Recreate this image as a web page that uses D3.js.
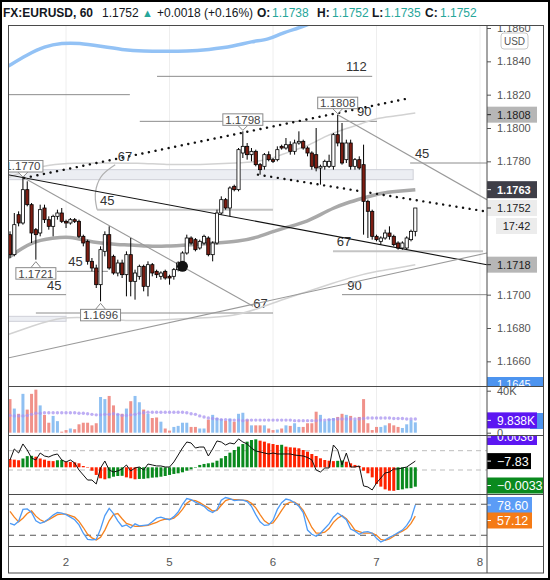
<!DOCTYPE html>
<html>
<head>
<meta charset="utf-8">
<script src="https://cdn.jsdelivr.net/npm/d3@7"></script>
<style>
body { margin: 0; background: #fff; }
svg { display: block; font-family: "Liberation Sans", Arial, sans-serif; }
</style>
</head>
<body>
<div id="chartDiv"></div>
<script>
// hourly EURUSD candles
const opens = [1.1736,1.1724,1.1748,1.1743,1.1763,1.1754,1.1739,1.1737,1.1752,1.1745,
  1.1741,1.1747,1.1749,1.1744,1.1743,1.1745,1.1744,1.1735,1.1732,1.1720,
  1.1716,1.1706,1.1726,1.1736,1.1723,1.1713,1.1719,1.1712,1.1724,1.1708,
  1.1711,1.1717,1.1705,1.1718,1.1714,1.1711,1.1714,1.1711,1.1711,1.1715,
  1.1719,1.1725,1.1734,1.1733,1.1728,1.1731,1.1734,1.1724,1.1731,1.1749,
  1.1757,1.1752,1.1765,1.1763,1.1785,1.1789,1.1784,1.1786,1.1778,1.1777,
  1.1784,1.1781,1.1781,1.1789,1.1788,1.1790,1.1786,1.1791,1.1792,1.1788,
  1.1785,1.1784,1.1776,1.1777,1.1777,1.1777,1.1796,1.1791,1.1781,1.1791,
  1.1777,1.1781,1.1778,1.1756,1.1750,1.1735,1.1732,1.1734,1.1737,1.1735,
  1.1731,1.1728,1.1728,1.1733,1.1738];
const highs = [1.1738,1.1749,1.1750,1.1770,1.1768,1.1755,1.1740,1.1754,1.1754,1.1747,
  1.1748,1.1751,1.1752,1.1745,1.1746,1.1746,1.1745,1.1736,1.1733,1.1722,
  1.1718,1.1729,1.1738,1.1741,1.1724,1.1721,1.1721,1.1726,1.1734,1.1715,
  1.1718,1.1718,1.1720,1.1719,1.1715,1.1714,1.1715,1.1712,1.1716,1.1720,
  1.1726,1.1736,1.1735,1.1734,1.1733,1.1736,1.1735,1.1732,1.1751,1.1759,
  1.1758,1.1765,1.1766,1.1788,1.1798,1.1791,1.1788,1.1787,1.1779,1.1785,
  1.1786,1.1782,1.1789,1.1790,1.1794,1.1792,1.1793,1.1798,1.1793,1.1789,
  1.1786,1.1800,1.1778,1.1781,1.1784,1.1797,1.1808,1.1803,1.1793,1.1793,
  1.1782,1.1783,1.1790,1.1757,1.1751,1.1736,1.1735,1.1739,1.1741,1.1736,
  1.1732,1.1732,1.1735,1.1739,1.1752];
const lows = [1.1722,1.1723,1.1741,1.1742,1.1753,1.1731,1.1721,1.1735,1.1743,1.1739,
  1.1735,1.1745,1.1743,1.1740,1.1742,1.1743,1.1734,1.1729,1.1718,1.1714,
  1.1704,1.1696,1.1723,1.1715,1.1712,1.1711,1.1710,1.1699,1.1699,1.1697,
  1.1709,1.1702,1.1699,1.1711,1.1710,1.1709,1.1709,1.1706,1.1709,1.1714,
  1.1718,1.1724,1.1730,1.1726,1.1727,1.1730,1.1723,1.1720,1.1730,1.1748,
  1.1751,1.1747,1.1762,1.1762,1.1782,1.1781,1.1780,1.1777,1.1772,1.1775,
  1.1780,1.1779,1.1780,1.1787,1.1787,1.1784,1.1784,1.1790,1.1787,1.1783,
  1.1775,1.1774,1.1766,1.1775,1.1776,1.1775,1.1789,1.1778,1.1779,1.1775,
  1.1775,1.1775,1.1736,1.1734,1.1733,1.1732,1.1730,1.1733,1.1733,1.1729,
  1.1727,1.1727,1.1727,1.1732,1.1735];
const closes = [1.1724,1.1742,1.1743,1.1763,1.1754,1.1737,1.1736,1.1751,1.1745,1.1741,
  1.1747,1.1749,1.1744,1.1743,1.1745,1.1744,1.1735,1.1731,1.1720,1.1716,
  1.1706,1.1727,1.1736,1.1716,1.1713,1.1719,1.1712,1.1724,1.1708,1.1713,
  1.1717,1.1705,1.1718,1.1713,1.1712,1.1713,1.1710,1.1710,1.1715,1.1719,
  1.1725,1.1734,1.1731,1.1727,1.1732,1.1735,1.1724,1.1731,1.1749,1.1757,
  1.1752,1.1764,1.1763,1.1787,1.1789,1.1784,1.1786,1.1778,1.1775,1.1784,
  1.1781,1.1780,1.1787,1.1788,1.1790,1.1786,1.1791,1.1792,1.1788,1.1785,
  1.1777,1.1776,1.1777,1.1780,1.1780,1.1796,1.1791,1.1779,1.1791,1.1777,
  1.1781,1.1776,1.1756,1.1750,1.1735,1.1733,1.1734,1.1737,1.1735,1.1730,
  1.1728,1.1731,1.1734,1.1738,1.1752];

// moving averages, sampled at candle indices
const slowMaIdx = [-0.5, 4, 8, 12, 16, 21, 26, 31, 36, 41, 46, 52, 56, 60, 63, 67, 70];
const slowMaVal = [1.1837,1.1844,1.1849,1.1851,1.1851,1.1849,1.1847,1.1846,1.1846,1.1846,1.1847,1.1849,1.1852,1.1853,1.1857,1.1860,1.1863];
const midMaIdx = [-0.5, 5, 10, 14, 18, 21, 25, 28, 32, 36, 42, 48, 53, 57, 61, 65, 69, 72, 75, 78, 82, 86, 90, 94];
const midMaVal = [1.1722,1.1732,1.1734,1.1735,1.1732,1.1731,1.1730,1.1730,1.1729,1.1729,1.1730,1.1731,1.1732,1.1734,1.1738,1.1741,1.1744,1.1748,1.1752,1.1755,1.1758,1.1761,1.1762,1.1763];
const upperEnvIdx = [-0.5, 4, 9, 15, 21, 30, 36, 44, 53, 58, 61, 65, 69, 73, 77, 81, 85, 89, 94];
const upperEnvVal = [1.1770,1.1775,1.1778,1.1779,1.1779,1.1779,1.1778,1.1778,1.1779,1.1780,1.1782,1.1786,1.1789,1.1795,1.1799,1.1802,1.1806,1.1807,1.1809];
const lowerEnvIdx = [-0.5, 5, 12, 20, 28, 36, 44, 52, 58, 63, 68, 75, 80, 85, 90, 94];
const lowerEnvVal = [1.1676,1.1681,1.1687,1.1686,1.1684,1.1685,1.1686,1.1687,1.1692,1.1697,1.1701,1.1707,1.1711,1.1714,1.1716,1.1718];

// volume in thousands, and its average
const volumes = [32,23,18,37,22,37,41,26,17,9.5,
  16,11,1,2.5,4,3.3,8,9.5,9.5,7,
  9,34,32,35,26,18,18,23,30,35,
  29,22,18,14,14.5,10.5,4,2,5.5,6.5,
  9.5,9.5,5.5,5.5,4,4,12.5,17,14,13,
  11.5,13.5,10.5,18,19,12.5,7,7,7,7,
  4,2.5,3,4,7,6.5,9,5.5,5.5,9,
  9,20,17,11,13,14,15,18,17,16,
  12,15,32,9,2.5,5.5,5.5,7,9,7,
  5.5,4.5,8,12,9.838];
const volMa = [16.5,16,16,16,16.5,17.5,18.5,18.5,19,19,
  19,19,19,19,19,19,18.5,18.5,18,17.5,
  17,17,17.5,17.5,18,17.5,16.5,16.5,17,17.5,
  18.5,19,19.5,19.5,19.5,19.5,19.5,19.5,19.5,19.5,
  19.5,19,18,17.5,16,15,14,13.5,13,12.5,
  12.5,12,12,12,11.5,12,12,12,12,12,
  12,12,12,12,12,12,11.5,11.5,11.5,11.5,
  11.5,11.5,12,12,12.5,12.5,13,13,13,13,
  13,13,13.5,14,14,14,14,14,14,13.5,
  13.5,13.5,13,13,13];

// oscillator histogram and CCI line
const hist = [0.0014,0.0013,0.0012,0.0015,0.0019,0.00195,0.0018,0.0015,0.0013,0.0011,
  0.00105,0.0012,0.00125,0.00095,0.0009,0.00085,0.00068,0.00022,0.00003,-0.00058,
  -0.0013,-0.00187,-0.00204,-0.00187,-0.0016,-0.00148,-0.00145,-0.00171,-0.00187,-0.00204,
  -0.00198,-0.00196,-0.00187,-0.00176,-0.00171,-0.0016,-0.00148,-0.0013,-0.00113,-0.00102,
  -0.00085,-0.00058,-0.00034,0.00002,0.0004,0.00057,0.00068,0.00079,0.00112,0.00153,
  0.00192,0.00249,0.00294,0.00351,0.00396,0.00436,0.00464,0.00476,0.00453,0.00436,
  0.00408,0.00396,0.0038,0.00383,0.00351,0.0034,0.00335,0.00323,0.00294,0.00266,
  0.00226,0.00192,0.00153,0.00124,0.00112,0.00105,0.0011,0.00115,0.00095,0.00068,
  0.0004,0.00022,-0.00058,-0.00102,-0.00171,-0.00283,-0.00329,-0.00375,-0.00397,-0.004,
  -0.00386,-0.00375,-0.00358,-0.00355,-0.0033];
const cci = [4,118,76,170,107,24,4,76,45,35,
  55,66,4,-17,4,-27,-100,-152,-204,-204,
  -245,-79,-7,-100,-121,-110,-89,-48,-110,-79,
  -69,-100,-38,-48,-58,-58,-69,-69,-17,55,
  128,190,180,128,138,138,45,118,201,190,
  159,180,170,222,190,170,128,97,87,76,
  66,76,66,66,66,66,55,50,45,30,
  4,-100,-121,-79,-79,159,107,-48,76,-69,
  -69,-58,-265,-276,-307,-235,-183,-131,-121,-89,
  -89,-79,-69,-38,-7.83];

// stochastic %K and %D
const stochK = [43,40,47,70,71,64,48,43,46,52,
  59,64,63,60,55,50,40,24,12,11,
  12,32,58,72,62,48,37,40,34,42,
  38,39,40,46,53,55,52,50,56,65,
  80,91,89,84,80,76,68,64,70,88,
  93,91,87,88,88,85,76,60,46,39,
  40,49,70,83,90,88,83,76,64,30,
  22,18,24,33,42,55,63,57,50,32,
  28,22,26,27,24,14,7,11,16,20,
  25,30,39,52,78.6];
const stochD = [66,55,46,53,62,67,57,50,46,50,
  55,60,61,61,58,55,47,35,22,15,
  11,16,30,48,60,62,52,43,40,37,
  37,38,39,42,45,49,51,51,53,60,
  70,82,88,87,83,78,73,67,68,78,
  87,90,89,89,88,87,82,73,60,48,
  42,44,55,68,80,84,84,78,68,52,
  35,24,24,26,33,45,53,58,52,42,
  30,27,24,24,24,20,12,10,13,18,
  24,28,33,43,57.12];

// time axis
const dayTickIdx = [13, 37, 61, 85, 109];
const dayTickLabels = ['2', '5', '6', '7', '8'];
// 1.1720, 1.1740 and 1.1760 sit under the price tags, so they are left out
const priceTicks = [1.166, 1.168, 1.170, 1.178, 1.180, 1.182, 1.184, 1.186];

// drawings on the price pane
const levelLines = [
  { from: -0.5, to: 27.8, price: 1.1820, label: '', at: 0, light: false },
  { from: 34.1, to: 84.0, price: 1.1831, label: '112', at: 77.9, light: false },
  { from: 30.1, to: 85.1, price: 1.1804, label: '90', at: 80.5, light: false },
  { from: 92.8, to: 110.6, price: 1.1779, label: '45', at: 93.9, light: false },
  { from: 20.2, to: 61.0, price: 1.1751, label: '45', at: 20.9, light: true },
  { from: 10.9, to: 22.7, price: 1.1714, label: '45', at: 13.5, light: false },
  { from: -0.5, to: 13.0, price: 1.1700, label: '45', at: 8.6, light: false },
  { from: 6.0, to: 61.0, price: 1.1689, label: '67', at: 56.4, light: false },
  { from: 77.0, to: 110.6, price: 1.1700, label: '90', at: 78.2, light: false },
  { from: 74.9, to: 109.7, price: 1.1726, label: '67', at: 75.8, light: true }
];
const trendLines = [
  { i0: -0.5, p0: 1.1772, i1: 110.6, p1: 1.1718, kind: 'solid' },
  { i0: 3.3, p0: 1.1770, i1: 56.4, p1: 1.1693, kind: 'thin' },
  { i0: 76.0, p0: 1.1808, i1: 110.6, p1: 1.1757, kind: 'thin' },
  { i0: -0.5, p0: 1.1662, i1: 110.6, p1: 1.1725, kind: 'thin' },
  { i0: 3.3, p0: 1.1770, i1: 92.8, p1: 1.1818, kind: 'dots' },
  { i0: 57.5, p0: 1.1772, i1: 110.2, p1: 1.1750, kind: 'dots' }
];
const zones = [
  { from: -0.5, to: 93.5, top: 1.1775, bottom: 1.1769 },
  { from: -0.5, to: 13.0, top: 1.1687, bottom: 1.1684 }
];
const arcPoints = [[24.4, 1.1778], [21.5, 1.1772], [20.0, 1.1764], [19.8, 1.1757], [20.2, 1.1751]];
const pivots = [
  { i: 3, kind: 'high' }, { i: 6, kind: 'low' }, { i: 21, kind: 'low' },
  { i: 54, kind: 'high' }, { i: 76, kind: 'high' }
];
const marker = { i: 40, price: 1.1717 };
const lineLabel67 = { i: 25, price: 1.1780 };

const fmt4 = d3.format('.4f');
const W = 550, H = 580;
const L = 8, R = 487, RR = 544;
const panes = [
  { top: 25, bottom: 386 },
  { top: 386, bottom: 435 },
  { top: 435, bottom: 494 },
  { top: 494, bottom: 546 }
];

const x = d3.scaleLinear().domain([0, 109]).range([10, 480]);
const yP = d3.scaleLinear().domain([1.16458, 1.18618]).range([385, 25]);
const yV = d3.scaleLinear().domain([0, 40]).range([432.7, 390.7]);
const yH = d3.scaleLinear().domain([-0.004, 0.005]).range([490.82, 437.9]);
const yC = d3.scaleLinear().domain([-100, 100]).range([470, 450.7]);
const yS = d3.scaleLinear().domain([0, 100]).range([545.6, 493.9]);

const svg = d3.select('#chartDiv').append('svg')
  .attr('width', W)
  .attr('height', H);

svg.append('rect').attr('width', W).attr('height', H).attr('fill', '#fff');

const defs = svg.append('defs');
panes.forEach((p, k) => {
  defs.append('clipPath').attr('id', 'plot' + k)
    .append('rect').attr('x', L).attr('y', p.top).attr('width', R - L).attr('height', p.bottom - p.top);
  defs.append('clipPath').attr('id', 'axis' + k)
    .append('rect').attr('x', R).attr('y', p.top + 0.5).attr('width', RR - R).attr('height', p.bottom - p.top - 0.5);
});

// header
const header = svg.append('g').attr('font-size', 12).attr('fill', '#131722');
const n = closes.length - 1;
const teal = '#26a69a';
header.append('text').attr('x', 3).attr('y', 17).attr('font-weight', 'bold').text('FX:EURUSD, 60');
header.append('text').attr('x', 102).attr('y', 17).text(fmt4(closes[n]));
header.append('text').attr('x', 142).attr('y', 17).attr('font-size', 11).attr('fill', teal).text('▲');
header.append('text').attr('x', 157).attr('y', 17).text('+0.0018 (+0.16%)');
[['O:', 257, opens[n], 272], ['H:', 317, highs[n], 332], ['L:', 372, lows[n], 384], ['C:', 425, closes[n], 440]]
  .forEach(([k, kx, v, vx]) => {
    header.append('text').attr('x', kx).attr('y', 17).attr('font-weight', 'bold').text(k);
    header.append('text').attr('x', vx).attr('y', 17).attr('fill', teal).text(fmt4(v));
  });

// vertical day grid
svg.append('g').selectAll('line')
  .data(dayTickIdx)
  .enter().append('line')
  .attr('x1', d => x(d)).attr('x2', d => x(d))
  .attr('y1', 25).attr('y2', 546)
  .attr('stroke', '#eeeeee').attr('stroke-width', 1);

// ---------- price pane ----------
const g = svg.append('g').attr('clip-path', 'url(#plot0)');

g.selectAll('.zone')
  .data(zones)
  .enter().append('rect')
  .attr('x', d => x(d.from)).attr('width', d => x(d.to) - x(d.from))
  .attr('y', d => yP(d.top)).attr('height', d => yP(d.bottom) - yP(d.top))
  .attr('fill', '#eceef3').attr('stroke', '#cfd1d8').attr('stroke-width', 1);

g.selectAll('.level')
  .data(levelLines)
  .enter().append('line')
  .attr('x1', d => x(d.from)).attr('x2', d => x(d.to))
  .attr('y1', d => yP(d.price)).attr('y2', d => yP(d.price))
  .attr('stroke', d => d.light ? '#c4c4c4' : '#8c8c8c')
  .attr('stroke-width', d => d.light ? 2 : 1);

g.selectAll('.level-label')
  .data(levelLines.filter(d => d.label))
  .enter().append('text')
  .attr('x', d => x(d.at)).attr('y', d => yP(d.price) - 5)
  .attr('font-size', 13).attr('fill', '#333')
  .text(d => d.label);

const curve = (idx, vals) => d3.line().curve(d3.curveBasis)
  .x((d, k) => x(d))
  .y((d, k) => yP(vals[k]))(idx);

g.append('path').attr('d', curve(upperEnvIdx, upperEnvVal))
  .attr('fill', 'none').attr('stroke', '#d2d2d2').attr('stroke-width', 1.5);
g.append('path').attr('d', curve(lowerEnvIdx, lowerEnvVal))
  .attr('fill', 'none').attr('stroke', '#d2d2d2').attr('stroke-width', 1.5);
g.append('path').attr('d', curve(slowMaIdx, slowMaVal))
  .attr('fill', 'none').attr('stroke', '#93c2f5').attr('stroke-width', 3.5);
g.append('path').attr('d', curve(midMaIdx, midMaVal))
  .attr('fill', 'none').attr('stroke', '#a9a9a9').attr('stroke-width', 3.5);

g.append('path')
  .attr('d', d3.line().curve(d3.curveNatural).x(d => x(d[0])).y(d => yP(d[1]))(arcPoints))
  .attr('fill', 'none').attr('stroke', '#b0b0b0').attr('stroke-width', 1.2);

g.selectAll('.trend')
  .data(trendLines)
  .enter().append('line')
  .attr('x1', d => x(d.i0)).attr('y1', d => yP(d.p0))
  .attr('x2', d => x(d.i1)).attr('y2', d => yP(d.p1))
  .attr('stroke', d => d.kind === 'thin' ? '#9a9a9a' : '#111')
  .attr('stroke-width', d => d.kind === 'dots' ? 2.4 : 1.1)
  .attr('stroke-linecap', d => d.kind === 'dots' ? 'round' : 'butt')
  .attr('stroke-dasharray', d => d.kind === 'dots' ? '0.1,6.6' : null);

g.append('text')
  .attr('x', x(lineLabel67.i)).attr('y', yP(lineLabel67.price))
  .attr('font-size', 13).attr('fill', '#333').text('67');

// candles
const idx = d3.range(closes.length);
g.selectAll('.wick')
  .data(idx)
  .enter().append('line')
  .attr('x1', i => x(i)).attr('x2', i => x(i))
  .attr('y1', i => yP(highs[i])).attr('y2', i => yP(lows[i]))
  .attr('stroke', '#000').attr('stroke-width', 1);
g.selectAll('.body')
  .data(idx)
  .enter().append('rect')
  .attr('x', i => x(i) - 1.6).attr('width', 3.2)
  .attr('y', i => yP(Math.max(opens[i], closes[i])))
  .attr('height', i => Math.max(1, Math.abs(yP(opens[i]) - yP(closes[i]))))
  .attr('fill', i => closes[i] >= opens[i] ? '#ffffff' : '#7d1d12')
  .attr('stroke', '#000').attr('stroke-width', 0.8);

g.append('circle')
  .attr('cx', x(marker.i)).attr('cy', yP(marker.price)).attr('r', 5.5)
  .attr('fill', '#111');

// pivot price tags
pivots.forEach(p => {
  const v = p.kind === 'high' ? highs[p.i] : lows[p.i];
  const cx = x(p.i), py = yP(v);
  const bw = 40, bh = 11.5;
  const by = p.kind === 'high' ? py - 6 - bh : py + 8;
  const edge = p.kind === 'high' ? by + bh : by;
  const tip = p.kind === 'high' ? py - 1 : py + 2;
  g.append('path')
    .attr('d', `M${cx - 5},${edge}L${cx},${tip}L${cx + 5},${edge}`)
    .attr('fill', '#fff').attr('stroke', '#8a8a8a').attr('stroke-width', 1);
  g.append('rect')
    .attr('x', cx - bw / 2).attr('y', by).attr('width', bw).attr('height', bh)
    .attr('fill', '#fff').attr('stroke', '#8a8a8a').attr('stroke-width', 1);
  g.append('text')
    .attr('x', cx).attr('y', by + bh / 2).attr('dy', '0.36em')
    .attr('text-anchor', 'middle').attr('font-size', 11.5).attr('fill', '#444')
    .text(fmt4(v));
});

// ---------- volume pane ----------
const gv = svg.append('g').attr('clip-path', 'url(#plot1)');
gv.selectAll('rect')
  .data(idx)
  .enter().append('rect')
  .attr('x', i => x(i) - 1.5).attr('width', 3)
  .attr('y', i => yV(volumes[i])).attr('height', i => yV(0) - yV(volumes[i]))
  .attr('fill', i => closes[i] >= opens[i] ? '#8fc0f2' : '#f0918a');
gv.selectAll('circle')
  .data(idx)
  .enter().append('circle')
  .attr('cx', i => x(i)).attr('cy', i => yV(volMa[i])).attr('r', 1.7)
  .attr('fill', '#a893f0').attr('opacity', 0.75);

// ---------- oscillator pane ----------
const gm = svg.append('g').attr('clip-path', 'url(#plot2)');
gm.selectAll('.lvl')
  .data([100, -100])
  .enter().append('line')
  .attr('x1', L).attr('x2', R)
  .attr('y1', d => yC(d)).attr('y2', d => yC(d))
  .attr('stroke', '#bdbdbd').attr('stroke-dasharray', '5,4');
gm.selectAll('rect')
  .data(idx)
  .enter().append('rect')
  .attr('x', i => x(i) - 1.5).attr('width', 3)
  .attr('y', i => Math.min(yH(0), yH(hist[i])))
  .attr('height', i => Math.max(0.5, Math.abs(yH(hist[i]) - yH(0))))
  .attr('fill', i => i > 0 && hist[i] > hist[i - 1] ? '#0a8a1e' : '#ff2200');
gm.append('path')
  .attr('d', d3.line().x(i => x(i)).y(i => yC(cci[i]))(idx))
  .attr('fill', 'none').attr('stroke', '#111').attr('stroke-width', 1);

// ---------- stochastic pane ----------
const gs = svg.append('g').attr('clip-path', 'url(#plot3)');
gs.selectAll('.lvl')
  .data([80, 20])
  .enter().append('line')
  .attr('x1', L).attr('x2', R)
  .attr('y1', d => yS(d)).attr('y2', d => yS(d))
  .attr('stroke', '#555').attr('stroke-dasharray', '6,5');
gs.append('path')
  .attr('d', d3.line().x(i => x(i)).y(i => yS(stochD[i]))(idx))
  .attr('fill', 'none').attr('stroke', '#f5821f').attr('stroke-width', 1.3);
gs.append('path')
  .attr('d', d3.line().x(i => x(i)).y(i => yS(stochK[i]))(idx))
  .attr('fill', 'none').attr('stroke', '#4e9bf6').attr('stroke-width', 1.3);

// ---------- right scales ----------
const ga = svg.append('g').attr('clip-path', 'url(#axis0)');
ga.append('g')
  .attr('transform', `translate(${R},0)`)
  .call(d3.axisRight(yP).tickValues(priceTicks).tickFormat(fmt4).tickSize(4).tickPadding(6))
  .call(a => a.select('.domain').remove())
  .call(a => a.selectAll('text').attr('font-size', 11).attr('fill', '#555').attr('font-family', null))
  .call(a => a.selectAll('line').attr('stroke', '#555'));

const badge = (parent, cy, text, bg, fg, opts = {}) => {
  const h = opts.h || 16, w = opts.w || 50, x0 = opts.x0 || R;
  parent.append('rect')
    .attr('x', x0).attr('y', cy - h / 2).attr('width', w).attr('height', h)
    .attr('fill', bg);
  parent.append('line')
    .attr('x1', R).attr('x2', R + 4).attr('y1', cy).attr('y2', cy)
    .attr('stroke', fg);
  parent.append('text')
    .attr('x', opts.center ? x0 + w / 2 : 497).attr('y', cy).attr('dy', '0.36em')
    .attr('text-anchor', opts.center ? 'middle' : 'start')
    .attr('font-size', opts.fs || 11).attr('font-weight', opts.bold ? 'bold' : null)
    .attr('fill', fg).text(text);
};

ga.append('rect').attr('x', 501).attr('y', 33).attr('width', 27).attr('height', 16)
  .attr('rx', 3).attr('fill', '#fff').attr('stroke', '#c8c8c8');
ga.append('text').attr('x', 514.5).attr('y', 41).attr('dy', '0.36em').attr('text-anchor', 'middle')
  .attr('font-size', 10).attr('fill', '#555').text('USD');

const maxHigh = d3.max(highs);
const lastMa = midMaVal[midMaVal.length - 1];
const lastLine = trendLines[0].p1;
badge(ga, yP(maxHigh), fmt4(maxHigh), '#b6b6b6', '#222');
badge(ga, yP(lastMa), fmt4(lastMa), '#3e3e48', '#fff', { bold: true, h: 17 });
badge(ga, yP(closes[n]), fmt4(closes[n]), '#ececec', '#222');
ga.append('rect').attr('x', 496).attr('y', yP(closes[n]) + 10).attr('width', 41).attr('height', 16).attr('fill', '#ececec');
ga.append('text').attr('x', 516.5).attr('y', yP(closes[n]) + 18).attr('dy', '0.36em')
  .attr('text-anchor', 'middle').attr('font-size', 11).attr('fill', '#222').text('17:42');
badge(ga, yP(lastLine), fmt4(lastLine), '#b6b6b6', '#222');
ga.append('rect').attr('x', R).attr('y', 377).attr('width', 56).attr('height', 16).attr('fill', '#4d94ef');
ga.append('text').attr('x', 497).attr('y', 384).attr('dy', '0.36em').attr('font-size', 11).attr('fill', '#fff').text('1.1645');

const gva = svg.append('g').attr('clip-path', 'url(#axis1)');
gva.append('g')
  .attr('transform', `translate(${R},0)`)
  .call(d3.axisRight(yV).tickValues([0, 40]).tickFormat(d => d ? d + 'K' : '0').tickSize(4).tickPadding(6))
  .call(a => a.select('.domain').remove())
  .call(a => a.selectAll('text').attr('font-size', 11).attr('fill', '#555').attr('font-family', null))
  .call(a => a.selectAll('line').attr('stroke', '#555'));
gva.append('rect').attr('x', 530).attr('y', 413).attr('width', 14).attr('height', 16).attr('fill', '#4d94ef');
badge(gva, yV(volumes[n]) - 2, volumes[n].toFixed(3) + 'K', '#5c16f2', '#fff', { fs: 12 });

const gma = svg.append('g').attr('clip-path', 'url(#axis2)');
badge(gma, 437, '0.0036', '#5c16f2', '#fff', { fs: 12 });
badge(gma, yC(cci[n]), cci[n].toFixed(2).replace('-', '−'), '#000', '#fff', { fs: 12.5, w: 44 });
badge(gma, 485.5, hist[n].toFixed(4).replace('-', '−'), '#0a8a1e', '#fff', { fs: 12.5, w: 56 });

const gsa = svg.append('g').attr('clip-path', 'url(#axis3)');
badge(gsa, 505, stochK[n].toFixed(2), '#5b9cf6', '#fff', { fs: 12.5, w: 45 });
badge(gsa, 520.5, stochD[n].toFixed(2), '#f57b16', '#fff', { fs: 12.5, w: 45 });

// bottom time labels
svg.append('g').selectAll('text')
  .data(dayTickIdx)
  .enter().append('text')
  .attr('x', d => x(d)).attr('y', 562).attr('dy', '0.36em')
  .attr('text-anchor', 'middle').attr('font-size', 11.5).attr('fill', '#555')
  .text((d, k) => dayTickLabels[k]);

// frame and pane separators
const frame = svg.append('g').attr('stroke', '#4a4a4a').attr('stroke-width', 1).attr('fill', 'none');
frame.append('rect').attr('x', L + 0.5).attr('y', 25.5).attr('width', RR - L - 1).attr('height', 573 - 25.5);
frame.append('line').attr('x1', R).attr('x2', R).attr('y1', 25).attr('y2', 573);
[386, 435, 494, 546].forEach(yy => {
  frame.append('line').attr('x1', L).attr('x2', RR).attr('y1', yy + 0.5).attr('y2', yy + 0.5);
});
svg.append('rect').attr('x', 1).attr('y', 1).attr('width', W - 2).attr('height', H - 2)
  .attr('fill', 'none').attr('stroke', '#000').attr('stroke-width', 2);
</script>
</body>
</html>
